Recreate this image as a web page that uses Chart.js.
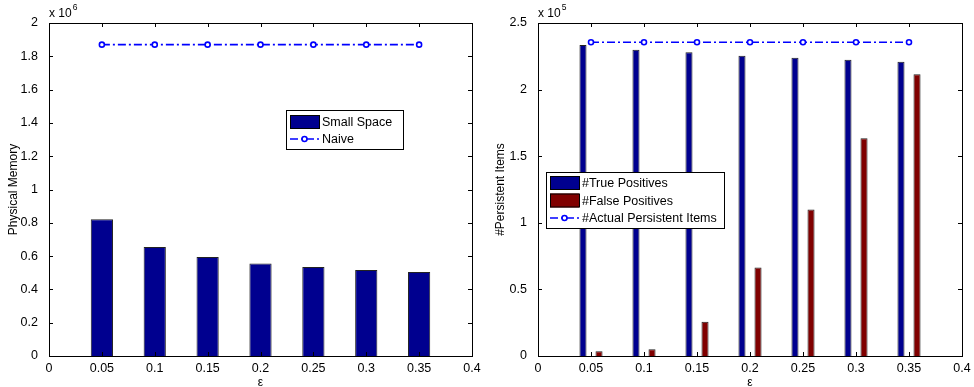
<!DOCTYPE html>
<html>
<head>
<meta charset="utf-8">
<script src="https://cdn.jsdelivr.net/npm/chart.js@4.4.0/dist/chart.umd.min.js"></script>
<style>
  body { margin: 0; background: #fff; }
  .wrap { position: absolute; top: 0; width: 487px; height: 387px; }
</style>
</head>
<body>
<div class="wrap" style="left:0"><canvas id="memChart" width="487" height="387"></canvas></div>
<div class="wrap" style="left:487px"><canvas id="itemsChart" width="487" height="387"></canvas></div>
<script>
// ===== data =====
const eps = [0.05, 0.1, 0.15, 0.2, 0.25, 0.3, 0.35];

// left: physical memory
const smallSpace = [822000, 655000, 595000, 555000, 535000, 517000, 505000];
const naive      = [1870000, 1870000, 1870000, 1870000, 1870000, 1870000, 1870000];

// right: persistent items
const truePos     = [233500, 230000, 228000, 225500, 224000, 222500, 221000];
const falsePos    = [3500, 5000, 25700, 66500, 110000, 163500, 211500];
const actualItems = [235500, 235500, 235500, 235500, 235500, 235500, 235500];

const NAVY = '#00008F';
const DARKRED = '#800000';
const BLUE = '#0000FF';
const FONT = '"Liberation Sans", Arial, sans-serif';

Chart.defaults.font.family = FONT;
Chart.defaults.font.size = 12.5;
Chart.defaults.color = '#000';

// ===== helpers =====
const pts = vals => vals.map((v, i) => ({ x: eps[i], y: v }));

// matlab style box, inward ticks, exponent label and legend
const matlabFrame = {
  id: 'matlabFrame',
  afterDraw(chart, args, opts) {
    const ctx = chart.ctx;
    const a = chart.chartArea;
    const xs = chart.scales.x, ys = chart.scales.y;
    ctx.save();
    ctx.strokeStyle = '#000';
    ctx.lineWidth = 1;
    ctx.setLineDash([]);
    ctx.strokeRect(Math.round(a.left) + 0.5, Math.round(a.top) + 0.5,
      Math.round(a.right - a.left), Math.round(a.bottom - a.top));
    ctx.beginPath();
    xs.ticks.forEach(t => {
      const p = Math.round(xs.getPixelForValue(t.value)) + 0.5;
      ctx.moveTo(p, a.bottom); ctx.lineTo(p, a.bottom - 4);
      ctx.moveTo(p, a.top); ctx.lineTo(p, a.top + 4);
    });
    ys.ticks.forEach(t => {
      const p = Math.round(ys.getPixelForValue(t.value)) + 0.5;
      ctx.moveTo(a.left, p); ctx.lineTo(a.left + 4, p);
      ctx.moveTo(a.right, p); ctx.lineTo(a.right - 4, p);
    });
    ctx.stroke();

    // exponent
    ctx.fillStyle = '#000';
    ctx.font = '12px ' + FONT;
    ctx.textBaseline = 'middle';
    ctx.textAlign = 'left';
    ctx.fillText('x 10', a.left, 14);
    const w = ctx.measureText('x 10').width;
    ctx.font = '8.5px ' + FONT;
    ctx.fillText(opts.exponent, a.left + w + 1, 8);

    // legend
    const lg = opts.legend;
    ctx.fillStyle = '#fff';
    ctx.fillRect(lg.x, lg.y, lg.w, lg.h);
    ctx.strokeStyle = '#000';
    ctx.strokeRect(lg.x + 0.5, lg.y + 0.5, lg.w, lg.h);
    ctx.font = '12.5px ' + FONT;
    lg.items.forEach((it, i) => {
      const ds = chart.data.datasets[it];
      const cy = lg.y + lg.first + i * lg.step;
      const x0 = lg.x + 4, x1 = lg.x + 33;
      if (ds.type === 'line') {
        ctx.strokeStyle = ds.borderColor;
        ctx.lineWidth = 1.6;
        ctx.setLineDash(ds.borderDash);
        ctx.beginPath();
        ctx.moveTo(x0, cy); ctx.lineTo(x1, cy);
        ctx.stroke();
        ctx.setLineDash([]);
        ctx.fillStyle = '#fff';
        ctx.beginPath();
        ctx.arc((x0 + x1) / 2, cy, 2.5, 0, Math.PI * 2);
        ctx.fill(); ctx.stroke();
      } else {
        ctx.fillStyle = ds.backgroundColor;
        ctx.fillRect(x0, cy - 7, x1 - x0, 14);
        ctx.strokeStyle = '#000';
        ctx.lineWidth = 1;
        ctx.strokeRect(x0 + 0.5, cy - 6.5, x1 - x0, 13);
      }
      ctx.fillStyle = '#000';
      ctx.fillText(ds.label, x1 + 3, cy + 1);
    });
    ctx.restore();
  }
};

function makeOptions(yMax, yStep, yDiv, yTitle, padRight, yWidth, frame) {
  return {
    responsive: false,
    animation: false,
    layout: { padding: { top: 23, right: padRight, left: 0, bottom: 0 } },
    plugins: { legend: { display: false }, tooltip: { enabled: false }, matlabFrame: frame },
    scales: {
      x: {
        type: 'linear', min: 0, max: 0.4, offset: false,
        grid: { display: false, offset: false }, border: { display: false },
        ticks: { stepSize: 0.05, padding: -3, maxRotation: 0, autoSkip: false,
                 callback: v => String(+v.toFixed(2)) },
        title: { display: true, text: 'ε', font: { size: 12, lineHeight: 1 },
                 padding: { top: 0, bottom: -2 } },
        afterFit: axis => { axis.height = 31; }
      },
      y: {
        min: 0, max: yMax,
        grid: { display: false }, border: { display: false },
        ticks: { stepSize: yStep, padding: 3, callback: v => String(+(v / yDiv).toFixed(2)) },
        title: { display: true, text: yTitle, font: { size: 12, lineHeight: 1 },
                 padding: { top: 8, bottom: 0 } },
        afterFit: axis => { axis.width = yWidth; }
      }
    }
  };
}

// ===== left chart =====
new Chart(document.getElementById('memChart'), {
  type: 'bar',
  data: {
    datasets: [
      { type: 'line', label: 'Naive', data: pts(naive), borderColor: BLUE, borderWidth: 1.6,
        borderDash: [8, 3, 2, 3], pointRadius: 2.5, pointBorderWidth: 1.6,
        pointBackgroundColor: '#fff', pointBorderColor: BLUE, order: 0 },
      { label: 'Small Space', data: pts(smallSpace), backgroundColor: NAVY,
        borderColor: '#222', borderWidth: 1, categoryPercentage: 1, barPercentage: 0.42, order: 1 }
    ]
  },
  options: makeOptions(2000000, 200000, 1e6, 'Physical Memory', 15, 49, {
    exponent: '6',
    legend: { x: 286, y: 110, w: 117, h: 39, first: 12, step: 17, items: [1, 0] }
  }),
  plugins: [matlabFrame]
});

// ===== right chart =====
new Chart(document.getElementById('itemsChart'), {
  type: 'bar',
  data: {
    datasets: [
      { type: 'line', label: '#Actual Persistent Items', data: pts(actualItems), borderColor: BLUE,
        borderWidth: 1.6, borderDash: [8, 3, 2, 3], pointRadius: 2.5, pointBorderWidth: 1.6,
        pointBackgroundColor: '#fff', pointBorderColor: BLUE, order: 0 },
      { label: '#True Positives', data: pts(truePos), backgroundColor: NAVY, borderColor: '#222',
        borderWidth: 1, categoryPercentage: 0.605, barPercentage: 0.44, order: 1 },
      { label: '#False Positives', data: pts(falsePos), backgroundColor: DARKRED, borderColor: '#222',
        borderWidth: 1, categoryPercentage: 0.605, barPercentage: 0.44, order: 1 }
    ]
  },
  options: makeOptions(250000, 50000, 1e5, '#Persistent Items', 12, 51, {
    exponent: '5',
    legend: { x: 546 - 487, y: 172, w: 178, h: 56, first: 11, step: 17.5, items: [1, 2, 0] }
  }),
  plugins: [matlabFrame]
});
</script>
</body>
</html>
